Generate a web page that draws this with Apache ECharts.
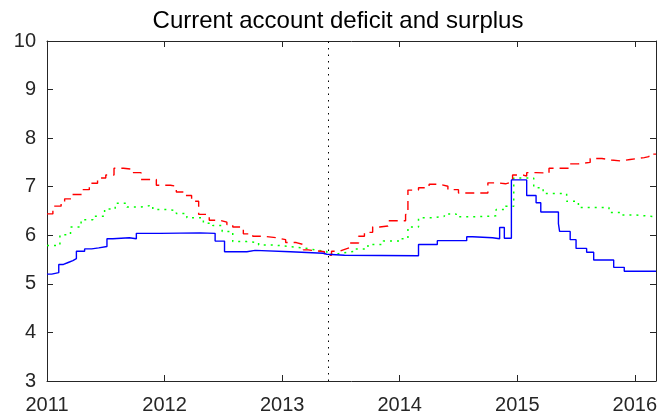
<!DOCTYPE html>
<html>
<head>
<meta charset="utf-8">
<script src="https://cdn.jsdelivr.net/npm/echarts@6/dist/echarts.min.js"></script>
<style>
  html, body { margin: 0; padding: 0; background: #fff; }
  #chart { width: 671px; height: 418px; }
</style>
</head>
<body>
<div id="chart"></div>
<script>
// Time in decimal years; each point starts a new level of the step series.
const blueT = [2011.00, 2011.04, 2011.10, 2011.14, 2011.18, 2011.22, 2011.25, 2011.32, 2011.38, 2011.44,
  2011.51, 2011.56, 2011.70, 2011.76, 2011.96, 2012.30, 2012.43, 2012.51, 2012.70, 2012.77,
  2013.07, 2013.35, 2013.38, 2013.53, 2014.16, 2014.32, 2014.57, 2014.62, 2014.79, 2014.85,
  2014.89, 2014.95, 2015.08, 2015.16, 2015.20, 2015.35, 2015.36, 2015.45, 2015.50, 2015.59,
  2015.65, 2015.82, 2015.91, 2016.18];
const blueV = [5.20, 5.23, 5.40, 5.44, 5.48, 5.52, 5.67, 5.72, 5.74, 5.77,
  5.93, 5.95, 5.93, 6.04, 6.05, 6.04, 5.88, 5.66, 5.69, 5.66,
  5.63, 5.61, 5.59, 5.58, 5.81, 5.89, 5.97, 5.95, 5.93, 6.16,
  5.94, 7.14, 6.82, 6.67, 6.48, 6.24, 6.08, 5.91, 5.73, 5.65,
  5.49, 5.34, 5.26, 5.26];

const redT = [2011.00, 2011.05, 2011.12, 2011.15, 2011.21, 2011.30, 2011.36, 2011.43, 2011.50, 2011.57,
  2011.65, 2011.72, 2011.80, 2011.93, 2012.05, 2012.10, 2012.18, 2012.23, 2012.29, 2012.38,
  2012.47, 2012.53, 2012.58, 2012.67, 2012.75, 2012.84, 2012.95, 2013.03, 2013.12, 2013.18,
  2013.22, 2013.36, 2013.42, 2013.49, 2013.52, 2013.57, 2013.65, 2013.70, 2013.77, 2013.83,
  2013.90, 2014.05, 2014.07, 2014.16, 2014.25, 2014.34, 2014.41, 2014.50, 2014.75, 2014.83,
  2014.90, 2014.96, 2015.05, 2015.08, 2015.16, 2015.27, 2015.45, 2015.52, 2015.62, 2015.72,
  2015.80, 2015.88, 2015.96, 2016.08, 2016.12, 2016.18];
const redV = [6.44, 6.60, 6.65, 6.75, 6.84, 6.94, 7.07, 7.18, 7.24, 7.38,
  7.36, 7.29, 7.15, 7.03, 7.01, 6.89, 6.82, 6.70, 6.43, 6.31,
  6.27, 6.22, 6.17, 6.03, 5.98, 5.95, 5.91, 5.85, 5.81, 5.70,
  5.66, 5.59, 5.67, 5.70, 5.74, 5.84, 5.98, 6.06, 6.17, 6.19,
  6.30, 6.43, 6.93, 6.98, 7.05, 7.01, 6.94, 6.87, 7.08, 7.06,
  7.10, 7.24, 7.22, 7.29, 7.28, 7.38, 7.47, 7.50, 7.58, 7.55,
  7.53, 7.56, 7.60, 7.62, 7.67, 7.67];

const greenT = [2011.00, 2011.11, 2011.20, 2011.29, 2011.39, 2011.49, 2011.58, 2011.68, 2011.79, 2011.90,
  2012.02, 2012.10, 2012.19, 2012.33, 2012.41, 2012.49, 2012.58, 2012.70, 2012.80, 2012.93,
  2013.05, 2013.18, 2013.28, 2013.38, 2013.46, 2013.52, 2013.62, 2013.73, 2013.86, 2014.01,
  2014.07, 2014.16, 2014.28, 2014.38, 2014.48, 2014.62, 2014.75, 2014.82, 2014.90, 2014.97,
  2015.08, 2015.14, 2015.22, 2015.34, 2015.42, 2015.52, 2015.68, 2015.78, 2015.88, 2016.00,
  2016.18];
const greenV = [5.79, 6.01, 6.17, 6.32, 6.39, 6.54, 6.66, 6.58, 6.62, 6.53,
  6.51, 6.45, 6.36, 6.25, 6.20, 6.08, 5.87, 5.85, 5.80, 5.77,
  5.74, 5.70, 5.67, 5.61, 5.64, 5.67, 5.72, 5.81, 5.88, 5.93,
  6.17, 6.36, 6.39, 6.44, 6.38, 6.39, 6.40, 6.53, 6.60, 7.18,
  7.18, 6.98, 6.86, 6.86, 6.70, 6.57, 6.57, 6.47, 6.42, 6.38,
  6.40];

const xMin = 2011, xMax = 2016.18, yMin = 3, yMax = 10;
const markerYear = 2013.39;
const titleText = 'Current account deficit and surplus';

const zip = (t, v) => t.map((x, i) => [x, v[i]]);
const axisColor = '#262626';
const font = 'Liberation Sans, Arial, Helvetica, sans-serif';

const chart = echarts.init(document.getElementById('chart'), null, { renderer: 'canvas' });

const baseX = {
  type: 'value', min: xMin, max: xMax, interval: 1,
  axisLine: { show: true, onZero: false, lineStyle: { color: axisColor, width: 1 } },
  axisTick: { show: true, inside: true, length: 6, lineStyle: { color: axisColor } },
  splitLine: { show: false }
};
const baseY = {
  type: 'value', min: yMin, max: yMax, interval: 1,
  axisLine: { show: true, onZero: false, lineStyle: { color: axisColor, width: 1 } },
  axisTick: { show: true, inside: true, length: 6, lineStyle: { color: axisColor } },
  splitLine: { show: false }
};

chart.setOption({
  animation: false,
  backgroundColor: '#ffffff',
  title: {
    text: titleText, left: 333, top: 4, textAlign: 'center',
    textStyle: { fontFamily: font, fontSize: 24, fontWeight: 'normal', color: '#000' }
  },
  grid: { left: 47, right: 15, top: 41, bottom: 37 },
  xAxis: [
    Object.assign({}, baseX, {
      position: 'bottom',
      axisLabel: {
        show: true, margin: 14, fontSize: 20, fontFamily: font, color: axisColor,
        formatter: v => (Math.abs(v - Math.round(v)) < 1e-6 ? String(Math.round(v)) : '')
      }
    }),
    Object.assign({}, baseX, { position: 'top', axisLabel: { show: false } })
  ],
  yAxis: [
    Object.assign({}, baseY, {
      position: 'left',
      axisLabel: { show: true, margin: 11, fontSize: 20, fontFamily: font, color: axisColor }
    }),
    Object.assign({}, baseY, { position: 'right', axisLabel: { show: false } })
  ],
  series: [
    {
      type: 'line', step: 'end', data: zip(greenT, greenV), symbol: 'none',
      lineStyle: { color: '#00ff00', width: 1.5, type: [2, 5] }
    },
    {
      type: 'line', step: 'end', data: zip(redT, redV), symbol: 'none',
      lineStyle: { color: '#ff0000', width: 1.4, type: [9, 6] }
    },
    {
      type: 'line', step: 'end', data: zip(blueT, blueV), symbol: 'none',
      lineStyle: { color: '#0000ff', width: 1.4 },
      markLine: {
        silent: true, symbol: 'none', label: { show: false },
        lineStyle: { color: '#000', width: 1, type: [1.5, 5] },
        data: [{ xAxis: markerYear }]
      }
    }
  ]
});
</script>
</body>
</html>
